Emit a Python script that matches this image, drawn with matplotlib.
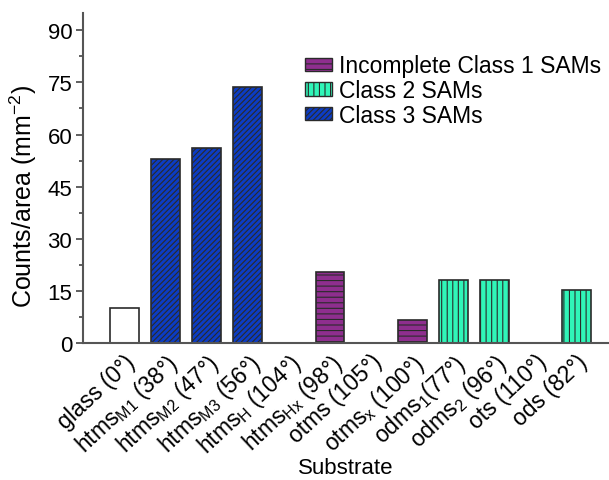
import matplotlib
matplotlib.use("Agg")
import matplotlib.pyplot as plt
from matplotlib.patches import Patch

plt.rcParams['font.family'] = ['Liberation Sans', 'DejaVu Sans']
plt.rcParams['mathtext.fontset'] = 'custom'
plt.rcParams['mathtext.rm'] = 'Liberation Sans'
plt.rcParams['mathtext.it'] = 'Liberation Sans'
plt.rcParams['hatch.linewidth'] = 0.8

labels = [
    'glass (0°)',
    r'htms$_{\mathregular{M1}}$ (38°)',
    r'htms$_{\mathregular{M2}}$ (47°)',
    r'htms$_{\mathregular{M3}}$ (56°)',
    r'htms$_{\mathregular{H}}$ (104°)',
    r'htms$_{\mathregular{Hx}}$ (98°)',
    'otms (105°)',
    r'otms$_{\mathregular{x}}$ (100°)',
    r'odms$_{\mathregular{1}}$(77°)',
    r'odms$_{\mathregular{2}}$ (96°)',
    'ots (110°)',
    'ods (82°)',
]
values = [10, 53, 56, 73.7, 0, 20.4, 0, 6.7, 18.2, 18.2, 0, 15.2]
classes = ['none', 'c3', 'c3', 'c3', 'none', 'c1', 'none', 'c1', 'c2', 'c2', 'none', 'c2']

styles = {
    'none': dict(color='white', hatch=None),
    'c1': dict(color='#8e2e8e', hatch='---'),
    'c2': dict(color='#30f5b8', hatch='|||'),
    'c3': dict(color='#0c3cc4', hatch='//////'),
}
legend_labels = [('c1', 'Incomplete Class 1 SAMs'), ('c2', 'Class 2 SAMs'), ('c3', 'Class 3 SAMs')]

fig = plt.figure(figsize=(6.09, 4.81), dpi=100)
ax = fig.add_axes([0.137, 0.285, 0.863, 0.686])

edge = '#2a2a2a'
x = list(range(len(labels)))
for xi, v, c in zip(x, values, classes):
    st = styles[c]
    ax.bar(xi, v, width=0.7, color=st['color'], edgecolor=edge, linewidth=1.2,
           hatch=st['hatch'], zorder=2)

ax.set_xlim(-1, 11.79)
ax.set_ylim(0, 95)
ax.set_yticks([0, 15, 30, 45, 60, 75, 90])
ax.set_yticks([7.5, 22.5, 37.5, 52.5, 67.5, 82.5], minor=True)
ax.set_xticks(x)
ax.set_xticklabels(labels, rotation=43, ha='right', va='top', rotation_mode='anchor')
ax.tick_params(axis='x', length=0, pad=5, labelsize=16.5)
ax.tick_params(axis='y', which='major', length=5, width=1.2, color='#444444', labelsize=16, pad=3)
ax.tick_params(axis='y', which='minor', length=3, width=1.2, color='#444444')

for s in ['top', 'right']:
    ax.spines[s].set_visible(False)
for s in ['left', 'bottom']:
    ax.spines[s].set_color('#555555')
    ax.spines[s].set_linewidth(1.5)

ax.set_ylabel(r'Counts/area (mm$^{\mathregular{-2}}$)', fontsize=18)
ax.yaxis.set_label_coords(-0.085, 0.448)
ax.set_xlabel('Substrate', fontsize=16)
ax.xaxis.set_label_coords(0.5, -0.345)

handles = [Patch(facecolor=styles[k]['color'], edgecolor=edge, hatch=styles[k]['hatch'], linewidth=1.0)
           for k, _ in legend_labels]
fig.legend(handles, [l for _, l in legend_labels], loc='upper left',
           bbox_to_anchor=(0.5, 0.885), frameon=False, fontsize=16.5,
           handlelength=1.2, handleheight=0.5, handletextpad=0.3, labelspacing=0.08,
           borderaxespad=0, borderpad=0)

fig.savefig('out.png', dpi=100)
